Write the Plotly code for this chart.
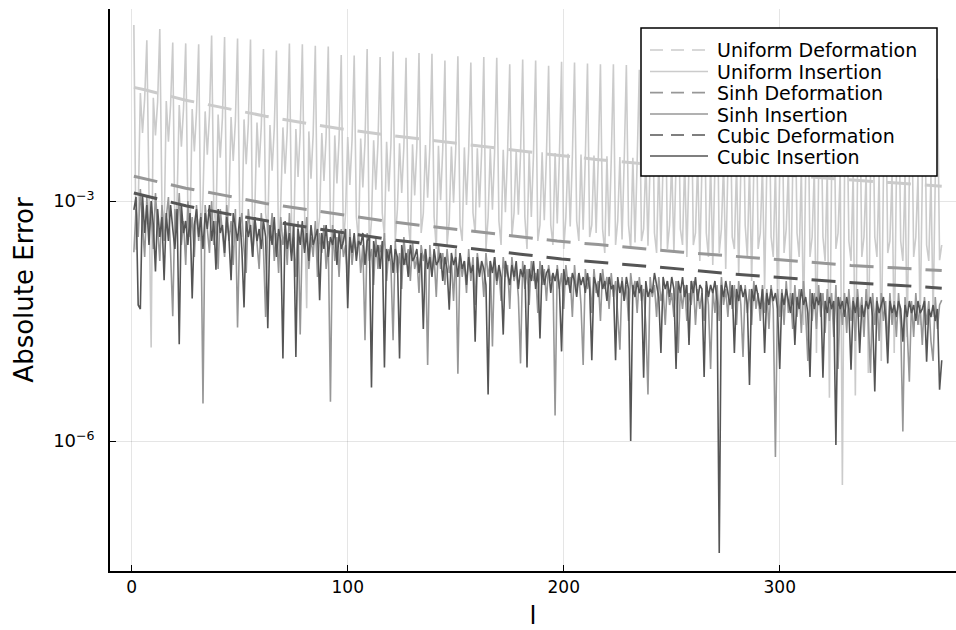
import numpy as np
import plotly.graph_objects as go

# ---------------- data (log10 of absolute error) ----------------
# Deformation curves: smooth, read at sample degrees l
l_uniform_def = [1, 6, 25, 43, 62, 81, 100, 120, 138, 157, 176, 196, 215, 234, 253, 273, 292, 312, 332, 351, 370, 375]
log_uniform_def = [-1.58, -1.61, -1.74, -1.84, -1.94, -2.03, -2.11, -2.18, -2.24, -2.30, -2.36, -2.425,
                   -2.48, -2.53, -2.575, -2.62, -2.66, -2.70, -2.735, -2.77, -2.805, -2.815]

l_sinh_def = [1, 6, 25, 43, 62, 81, 100, 120, 139, 158, 177, 197, 216, 235, 255, 274, 294, 313, 333, 353, 371, 375]
log_sinh_def = [-2.69, -2.72, -2.84, -2.93, -3.03, -3.105, -3.185, -3.26, -3.32, -3.38, -3.44, -3.50,
                -3.545, -3.595, -3.64, -3.68, -3.725, -3.765, -3.805, -3.835, -3.865, -3.87]

l_cubic_def = [1, 6, 25, 44, 63, 83, 102, 122, 141, 160, 180, 199, 219, 238, 258, 277, 297, 316, 336, 356, 372, 375]
log_cubic_def = [-2.90, -2.935, -3.06, -3.16, -3.25, -3.335, -3.415, -3.49, -3.545, -3.60, -3.665, -3.725,
                 -3.77, -3.82, -3.86, -3.91, -3.95, -3.985, -4.025, -4.055, -4.085, -4.09]

# Insertion curves: one value per degree l = 1, 2, 3, ...
log_uniform_ins = [
    -0.80, -3.61, -3.10, -1.65, -2.15, -1.72,
    -0.99, -3.30, -4.83, -1.71, -2.18, -1.76,
    -0.85, -3.05, -3.40, -1.75, -2.26, -1.80,
    -1.02, -3.45, -3.00, -1.80, -2.32, -1.84,
    -1.03, -3.15, -3.35, -1.85, -2.38, -1.88,
    -1.04, -3.50, -2.95, -1.88, -2.42, -1.92,
    -0.93, -3.10, -3.30, -1.92, -2.46, -1.96,
    -0.95, -3.40, -3.05, -1.95, -2.50, -2.00,
    -0.97, -3.20, -3.45, -1.98, -2.54, -2.03,
    -0.98, -3.55, -3.10, -2.02, -2.58, -2.06,
    -1.10, -3.15, -3.40, -2.05, -2.62, -2.09,
    -1.12, -3.75, -3.05, -2.08, -2.66, -2.12,
    -1.03, -3.25, -3.50, -2.10, -2.70, -2.14,
    -1.04, -3.10, -4.34, -2.13, -2.72, -2.17,
    -1.06, -3.45, -3.20, -2.15, -2.75, -2.19,
    -1.07, -3.30, -3.60, -2.18, -2.78, -2.22,
    -1.175, -3.55, -3.15, -2.20, -2.80, -2.24,
    -1.18, -3.20, -3.50, -2.22, -2.83, -2.26,
    -1.10, -3.60, -3.25, -2.24, -2.86, -2.28,
    -1.20, -3.15, -3.45, -2.26, -2.88, -2.30,
    -1.13, -3.50, -3.10, -2.28, -2.90, -2.32,
    -1.21, -3.25, -3.55, -2.29, -2.93, -2.33,
    -1.15, -3.40, -3.15, -2.30, -2.96, -2.34,
    -1.16, -3.20, -3.60, -2.31, -2.99, -2.35,
    -1.245, -3.55, -3.25, -2.32, -3.02, -2.36,
    -1.19, -3.30, -3.50, -2.33, -3.05, -2.37,
    -1.27, -3.15, -3.40, -2.34, -3.08, -2.38,
    -1.20, -3.60, -3.20, -2.35, -3.11, -2.39,
    -1.21, -3.25, -3.55, -2.36, -3.14, -2.40,
    -1.29, -3.45, -3.15, -2.37, -3.17, -2.41,
    -1.23, -3.20, -3.60, -2.38, -3.20, -2.42,
    -1.245, -3.50, -3.30, -2.39, -3.24, -2.43,
    -1.31, -3.30, -3.55, -2.40, -3.28, -2.44,
    -1.26, -3.60, -3.20, -2.41, -3.32, -2.45,
    -1.27, -3.25, -3.50, -2.42, -3.36, -2.46,
    -1.28, -3.45, -3.30, -2.43, -3.40, -2.47,
    -1.29, -3.35, -3.65, -2.44, -3.44, -2.48,
    -1.29, -3.55, -3.25, -2.45, -3.48, -2.49,
    -1.30, -3.30, -3.60, -2.46, -3.52, -2.50,
    -1.36, -3.50, -3.35, -2.47, -3.56, -2.51,
    -1.31, -3.40, -3.65, -2.48, -3.60, -2.52,
    -1.32, -3.60, -3.30, -2.49, -3.65, -2.53,
    -1.38, -3.35, -3.55, -2.50, -3.70, -2.54,
    -1.33, -3.55, -3.40, -2.51, -3.75, -2.55,
    -1.34, -3.40, -3.70, -2.52, -3.80, -2.56,
    -1.35, -3.65, -3.35, -2.53, -3.85, -2.57,
    -1.40, -3.45, -3.60, -2.54, -3.92, -2.58,
    -1.36, -3.30, -3.70, -2.55, -4.00, -2.59,
    -1.37, -3.60, -3.40, -2.56, -4.10, -2.60,
    -1.42, -3.45, -3.70, -2.57, -4.20, -2.61,
    -1.38, -3.65, -3.35, -2.58, -4.35, -2.62,
    -1.39, -3.40, -3.70, -2.59, -4.55, -2.63,
    -1.40, -3.70, -3.45, -2.60, -4.90, -2.64,
    -1.44, -3.45, -3.75, -2.61, -5.46, -2.65,
    -1.41, -3.60, -3.40, -2.62, -6.55, -2.66,
    -1.42, -3.50, -3.75, -2.63, -5.43, -2.67,
    -1.46, -3.70, -3.45, -2.64, -5.15, -2.68,
    -1.43, -3.45, -3.70, -2.65, -5.00, -2.69,
    -1.44, -3.65, -3.50, -2.66, -4.90, -2.70,
    -1.45, -3.50, -3.75, -2.67, -4.70, -2.71,
    -1.48, -3.70, -3.45, -2.68, -4.55, -2.72,
    -1.46, -3.55, -3.75, -2.69, -4.45, -2.73,
    -1.47, -3.74, -3.55,
]

log_sinh_ins = [
    -3.64, -3.10, -3.45, -2.85, -3.30, -3.70, -2.95, -3.40, -3.15, -3.60, -2.90, -3.35, -3.75, -3.05, -3.50,
    -3.20, -2.95, -3.65, -4.44, -3.10, -3.40, -2.90, -3.55, -3.25, -3.80, -3.00, -3.45, -3.20, -3.70, -3.05,
    -3.50, -3.15, -5.53, -3.05, -3.40, -3.65, -3.00, -3.55, -3.25, -3.85, -3.10, -3.45, -3.70, -3.05, -3.50,
    -3.25, -3.80, -3.10, -4.58, -3.35, -3.15, -3.60, -3.90, -3.10, -3.45, -3.70, -3.20, -3.55, -3.85, -3.15,
    -3.60, -4.45, -3.25, -3.50, -3.15, -3.75, -3.40, -3.90, -3.20, -3.55, -3.35, -3.80, -3.15, -3.65, -3.45,
    -3.95, -3.25, -4.67, -3.35, -3.60, -3.20, -3.85, -3.45, -3.70, -3.25, -3.95, -3.40, -3.65, -3.30, -3.85,
    -3.50, -5.51, -3.30, -3.75, -3.45, -3.95, -3.35, -3.70, -3.55, -4.00, -3.35, -3.80, -3.50, -3.65, -3.40,
    -3.90, -3.55, -4.74, -3.40, -3.75, -3.60, -4.05, -3.45, -3.85, -3.55, -3.70, -3.40, -4.00, -3.60, -3.80,
    -4.74, -3.50, -3.90, -3.65, -4.10, -3.45, -3.80, -3.60, -4.00, -3.50, -3.85, -3.70, -4.15, -3.55, -3.75,
    -3.60, -5.05, -3.55, -3.90, -3.70, -4.20, -3.55, -3.85, -3.65, -4.05, -3.60, -3.90, -3.75, -4.25, -3.60,
    -5.16, -3.65, -3.95, -3.75, -4.15, -3.60, -4.00, -3.70, -4.30, -3.65, -3.90, -3.80, -4.20, -3.65, -3.95,
    -3.75, -4.82, -3.70, -4.05, -3.85, -4.25, -3.70, -3.95, -3.80, -4.35, -3.70, -4.00, -3.85, -4.20, -5.03,
    -3.75, -4.10, -3.85, -4.30, -3.75, -4.00, -3.90, -4.40, -3.75, -4.05, -3.85, -4.25, -3.80, -4.00, -3.90,
    -5.68, -3.80, -4.10, -3.90, -4.35, -3.80, -4.05, -3.95, -4.45, -3.80, -4.15, -3.90, -4.30, -5.05, -3.85,
    -4.10, -3.95, -4.40, -3.85, -4.15, -4.00, -4.50, -3.85, -4.10, -3.95, -4.35, -3.90, -4.20, -4.00, -4.45,
    -4.86, -3.95, -4.25, -4.05, -4.50, -3.90, -4.15, -4.00, -4.40, -3.95, -4.25, -4.10, -4.55, -5.42, -3.95,
    -4.20, -4.05, -4.45, -3.95, -4.25, -4.10, -4.55, -4.00, -4.30, -4.15, -4.45, -4.00, -4.90, -4.10, -4.35,
    -4.05, -4.50, -4.15, -4.30, -4.00, -4.55, -4.10, -4.35, -4.15, -4.50, -4.05, -4.30, -5.10, -4.10, -4.40,
    -4.05, -4.50, -3.95, -4.30, -4.10, -4.45, -4.00, -4.35, -4.05, -4.55, -4.00, -4.30, -4.95, -4.05, -4.40,
    -4.10, -4.55, -4.00, -4.35, -4.15, -4.50, -4.05, -4.40, -4.10, -4.60, -4.05, -4.35, -6.20, -4.10, -4.45,
    -4.10, -4.55, -4.00, -4.40, -4.15, -4.60, -4.05, -4.45, -4.10, -4.65, -4.00, -4.40, -5.00, -4.10, -4.50,
    -4.15, -4.60, -4.05, -4.45, -4.15, -4.65, -4.10, -4.50, -4.15, -4.70, -4.05, -5.10, -4.20, -4.55, -4.15,
    -4.65, -4.10, -4.50, -4.20, -4.75, -4.10, -4.45, -4.20, -4.70, -4.10, -4.50, -5.15, -4.15, -4.55, -4.20,
    -4.75, -4.15, -4.50, -4.25, -4.80, -4.15, -4.55, -4.25, -4.70, -4.15, -4.55, -5.88, -4.20, -4.60, -5.26,
    -4.25, -4.70, -4.15, -4.55, -4.30, -4.80, -4.20, -4.55, -4.25, -4.75, -5.00, -4.20, -4.60, -4.30, -4.24,
]

log_cubic_ins = [
    -3.11, -2.95, -4.30, -4.35, -2.93, -3.40, -3.05, -3.55, -3.00, -3.30, -3.88, -3.10, -3.45, -3.20, -3.99,
    -3.15, -3.50, -3.05, -3.35, -3.60, -3.10, -4.79, -3.05, -3.40, -3.25, -3.55, -3.15, -4.22, -3.30, -3.10,
    -3.45, -3.20, -3.60, -3.15, -3.35, -3.05, -3.50, -3.25, -3.86, -3.10, -3.40, -3.30, -3.65, -3.20, -3.45,
    -3.99, -3.15, -3.35, -3.50, -3.20, -3.60, -4.33, -3.25, -3.45, -3.30, -3.70, -3.20, -3.50, -3.35, -3.60,
    -3.25, -3.45, -4.59, -3.30, -3.55, -3.20, -3.70, -3.35, -3.50, -4.97, -3.25, -3.60, -3.40, -3.75, -3.30,
    -4.95, -3.35, -3.55, -3.25, -3.65, -3.40, -3.75, -3.30, -3.55, -3.45, -3.35, -4.24, -3.40, -3.60, -3.30,
    -3.70, -3.45, -3.55, -3.35, -3.80, -3.40, -3.60, -3.50, -3.35, -4.34, -3.45, -3.65, -3.40, -3.75, -3.50,
    -3.55, -3.40, -3.80, -3.50, -3.45, -5.33, -3.50, -3.70, -3.55, -3.85, -3.50, -5.08, -3.60, -3.75, -3.55,
    -3.90, -3.60, -3.70, -4.97, -3.55, -3.80, -3.65, -3.95, -3.55, -3.75, -3.70, -3.60, -3.90, -3.65, -4.60,
    -3.60, -3.85, -3.70, -3.95, -3.60, -3.80, -3.75, -3.65, -4.00, -3.70, -3.85, -4.36, -3.65, -3.80, -3.70,
    -3.95, -3.65, -3.85, -3.75, -4.05, -3.70, -3.90, -3.80, -4.76, -3.70, -3.95, -3.75, -3.85, -4.05, -5.42,
    -3.75, -3.90, -3.70, -4.00, -3.80, -3.95, -4.67, -3.75, -3.90, -4.05, -3.80, -3.95, -3.75, -4.10, -3.85,
    -3.95, -3.80, -5.08, -3.85, -4.00, -3.75, -4.10, -3.85, -4.72, -3.80, -4.05, -3.90, -3.85, -4.15, -3.90,
    -4.00, -3.85, -4.10, -4.88, -3.85, -4.05, -3.95, -4.15, -3.90, -4.00, -4.20, -3.90, -4.05, -3.95, -4.15,
    -3.90, -4.10, -4.99, -3.95, -4.05, -4.20, -3.90, -4.10, -4.00, -4.25, -3.95, -4.10, -4.05, -4.99, -3.95,
    -4.15, -4.00, -4.25, -3.95, -4.10, -6.00, -4.05, -4.20, -4.00, -4.15, -4.05, -5.21, -4.00, -4.20, -4.10,
    -4.15, -3.90, -4.05, -4.20, -4.90, -3.95, -4.10, -4.00, -4.20, -3.95, -4.10, -5.10, -4.00, -4.15, -3.95,
    -4.20, -4.05, -4.80, -4.00, -4.15, -3.95, -4.25, -4.05, -4.10, -5.20, -4.00, -4.20, -4.05, -4.15, -4.00,
    -4.25, -7.40, -4.05, -4.20, -4.00, -4.15, -4.30, -4.05, -4.90, -4.10, -4.25, -4.05, -4.20, -4.10, -4.30,
    -5.30, -4.10, -4.25, -4.05, -4.20, -4.35, -4.10, -4.90, -4.15, -4.30, -4.10, -4.25, -4.15, -4.35, -5.10,
    -4.15, -4.30, -4.10, -4.25, -4.40, -4.15, -4.80, -4.20, -4.35, -4.10, -4.30, -4.20, -4.40, -5.20, -4.15,
    -4.35, -4.20, -4.30, -4.15, -5.21, -4.25, -4.40, -4.20, -4.35, -4.25, -6.05, -4.20, -4.35, -4.25, -4.45,
    -4.20, -4.35, -5.11, -4.25, -4.40, -4.20, -4.90, -4.30, -4.45, -4.25, -4.35, -4.20, -4.45, -5.38, -4.25,
    -4.40, -4.30, -4.20, -4.45, -5.03, -4.25, -4.40, -4.30, -4.45, -4.25, -4.35, -4.76, -4.30, -4.45, -4.25,
    -4.40, -4.30, -4.50, -4.25, -4.40, -4.35, -4.25, -5.01, -4.35, -4.45, -4.30, -4.50, -4.35, -5.36, -4.99,
]

series_names = ["Uniform Deformation", "Uniform Insertion", "Sinh Deformation",
                "Sinh Insertion", "Cubic Deformation", "Cubic Insertion"]
y_tick_vals = [1e-3, 1e-6]
y_tick_text = ["10<sup>−3</sup>", "10<sup>−6</sup>"]
x_tick_vals = [0, 100, 200, 300]

# ---------------- styling ----------------
LIGHT, MID, DARK = "#cbcbcb", "#979797", "#555555"
DASH_DATA = "24px,14px"
DASH_LEG = "13px,8px"
FONT = "DejaVu Sans"

# plot area in pixels (for placing the legend box)
W, H = 956, 630
ML, MR, MT, MB = 110, 0, 9, 59
PW, PH = W - ML - MR, H - MT - MB


def px_x(px):
    return (px - ML) / PW


def px_y(py):
    return (H - MB - py) / PH


fig = go.Figure()


def ins_x(vals):
    return list(range(1, len(vals) + 1))


traces = [
    (series_names[0], l_uniform_def, log_uniform_def, LIGHT, True),
    (series_names[1], ins_x(log_uniform_ins), log_uniform_ins, LIGHT, False),
    (series_names[2], l_sinh_def, log_sinh_def, MID, True),
    (series_names[3], ins_x(log_sinh_ins), log_sinh_ins, MID, False),
    (series_names[4], l_cubic_def, log_cubic_def, DARK, True),
    (series_names[5], ins_x(log_cubic_ins), log_cubic_ins, DARK, False),
]

for name, xs, logs, col, dashed in traces:
    ys = [10.0 ** v for v in logs]
    fig.add_trace(go.Scatter(
        x=xs, y=ys, mode="lines", name=name, showlegend=False,
        line=dict(color=col, width=3.0 if dashed else 1.6,
                  dash=DASH_DATA if dashed else "solid"),
        hoverinfo="skip",
    ))

# ---------------- legend box (drawn like the reference: long thin samples) ----------------
shapes = [dict(type="rect", xref="paper", yref="paper",
               x0=px_x(641), x1=px_x(937), y0=px_y(176), y1=px_y(28),
               line=dict(color="black", width=1.5), fillcolor="white", layer="above")]
annotations = []
row_y = [50, 71.5, 92.7, 114, 135, 156]
for (name, xs, logs, col, dashed), ry in zip(traces, row_y):
    shapes.append(dict(type="line", xref="paper", yref="paper",
                       x0=px_x(650), x1=px_x(708), y0=px_y(ry), y1=px_y(ry),
                       line=dict(color=col, width=1.7, dash=DASH_LEG if dashed else "solid"),
                       layer="above"))
    annotations.append(dict(xref="paper", yref="paper", x=px_x(715), y=px_y(ry + 0.5),
                            xanchor="left", yanchor="middle", showarrow=False, text=name,
                            font=dict(family=FONT, size=19, color="black")))

fig.update_layout(
    width=W, height=H,
    margin=dict(l=ML, r=MR, t=MT, b=MB),
    paper_bgcolor="white", plot_bgcolor="white",
    font=dict(family=FONT, color="black", size=18),
    showlegend=False,
    shapes=shapes,
    annotations=annotations,
    xaxis=dict(
        range=[-10.05, 381.6], tickmode="array", tickvals=x_tick_vals,
        ticks="inside", ticklen=6, tickwidth=1.2, tickcolor="black",
        showline=True, linecolor="black", linewidth=1.5, mirror=False,
        showgrid=True, gridcolor="rgba(0,0,0,0.1)", gridwidth=1, zeroline=False,
        tickfont=dict(family=FONT, size=17, color="black"),
        title=dict(text="l", font=dict(family=FONT, size=25, color="black"), standoff=10),
    ),
    yaxis=dict(
        type="log", range=[-7.625, -0.6], tickmode="array",
        tickvals=y_tick_vals, ticktext=y_tick_text,
        ticks="inside", ticklen=6, tickwidth=1.2, tickcolor="black",
        showline=True, linecolor="black", linewidth=1.5, mirror=False,
        showgrid=True, gridcolor="rgba(0,0,0,0.1)", gridwidth=1, zeroline=False,
        ticklabelstandoff=10,
        tickfont=dict(family=FONT, size=18, color="black"),
        title=dict(text="Absolute Error", font=dict(family=FONT, size=26, color="black"), standoff=12),
    ),
)

fig.write_html("out.html")
